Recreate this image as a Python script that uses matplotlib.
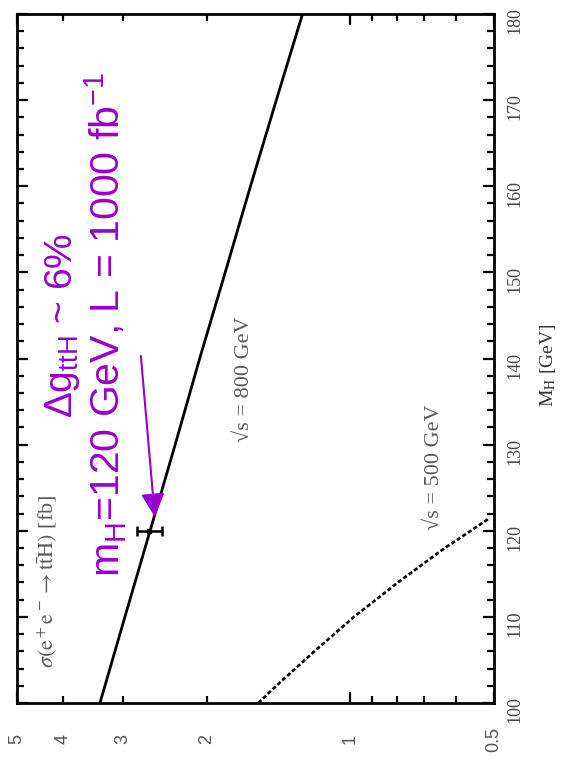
import numpy as np
import matplotlib
matplotlib.use('Agg')
import matplotlib.pyplot as plt
from matplotlib.ticker import FixedLocator, FixedFormatter, MultipleLocator

plt.rcParams['mathtext.fontset'] = 'custom'
plt.rcParams['mathtext.rm'] = 'Liberation Sans'
plt.rcParams['mathtext.it'] = 'Liberation Sans:italic'
plt.rcParams['mathtext.bf'] = 'Liberation Sans:bold'

mh_800 = [100, 110, 120, 130, 140, 150, 160, 170, 180]
sigma_800 = [3.35, 2.97, 2.63, 2.33, 2.07, 1.83, 1.62, 1.43, 1.26]

mh_500 = [100, 102, 106, 110, 114, 118, 120, 121.5]
sigma_500 = [1.56, 1.43, 1.19, 0.983, 0.795, 0.634, 0.559, 0.510]

mh_meas = 120
sigma_meas = 2.64
sigma_err = 0.155

arrow_start = (2.75, 140.3)
arrow_tip = (2.57, 121.6)

purple = '#9900cc'
gray = '#5a5a5a'

fig = plt.figure(figsize=(5.64, 7.77), dpi=100)
ax = fig.add_axes([17/564, (777-703)/777, 477/564, 689/777])

# rotated frame: sigma runs right->left along x, M_H runs up along y
ax.plot(sigma_800, mh_800, color='k', lw=2)
ax.plot(sigma_500, mh_500, color='k', lw=1.9, linestyle=(0, (1.6, 0.9)))
ax.errorbar(sigma_meas, mh_meas, xerr=sigma_err, fmt='s', ms=3.5, color='k',
            lw=1.8, capsize=3.8, capthick=1.8, zorder=5)

ax.annotate('', xy=arrow_tip, xytext=arrow_start,
            arrowprops=dict(arrowstyle='-|>', color=purple, lw=1.5,
                            mutation_scale=36, shrinkA=0, shrinkB=0))

ax.set_xscale('log')
ax.set_xlim(5, 0.5)
ax.set_ylim(100, 180)

ax.xaxis.set_major_locator(FixedLocator([0.5, 1, 5]))
ax.xaxis.set_major_formatter(FixedFormatter(['0.5', '1', '5']))
ax.xaxis.set_minor_locator(FixedLocator([0.6, 0.7, 0.8, 0.9, 2, 3, 4]))
ax.xaxis.set_minor_formatter(FixedFormatter(['', '', '', '', '2', '3', '4']))

ax.yaxis.set_major_locator(MultipleLocator(10))
ax.yaxis.set_minor_locator(MultipleLocator(2))
ax.yaxis.tick_right()

ax.tick_params(axis='both', which='major', direction='in', length=8, width=1.6)
ax.tick_params(axis='both', which='minor', direction='in', length=5, width=1.6)
ax.tick_params(axis='x', which='both', top=True, bottom=True, pad=26,
               labelrotation=90, labelsize=13, labelcolor='#555555')
ax.tick_params(axis='y', which='both', left=True, right=True, pad=9,
               labelrotation=90, labelsize=13, labelcolor='#444444')
for lbl in ax.get_xticklabels(which='both'):
    lbl.set_va('center')
    lbl.set_family('Liberation Sans')
for lbl in ax.get_yticklabels(which='both'):
    lbl.set_family('Liberation Serif')

for s in ax.spines.values():
    s.set_linewidth(2)

ax.text(1.113, 0.4906, r'M$_\mathrm{H}$ [GeV]', transform=ax.transAxes,
        rotation=90, ha='center', va='center', fontsize=14,
        family='Liberation Serif', math_fontfamily='stix', color='#333333')

ax.text(0.065, 0.176, r'$\sigma(\mathrm{e^+e^-}\rightarrow \mathrm{t\bar{t}H})$ [fb]',
        transform=ax.transAxes, rotation=90, ha='center', va='center',
        fontsize=16, family='Liberation Serif', math_fontfamily='stix', color=gray)
ax.text(0.476, 0.470, '√s = 800 GeV', transform=ax.transAxes, rotation=90,
        ha='center', va='center', fontsize=16,
        family=['Liberation Serif', 'DejaVu Serif'], color=gray)
ax.text(0.876, 0.3425, '√s = 500 GeV', transform=ax.transAxes, rotation=90,
        ha='center', va='center', fontsize=16,
        family=['Liberation Serif', 'DejaVu Serif'], color=gray)

ax.text(0.1153, 0.4136, r'Δg$_\mathrm{ttH}$ ~ 6%', transform=ax.transAxes,
        rotation=90, rotation_mode='anchor', ha='left', va='baseline',
        fontsize=28, family='Liberation Sans', color=purple)
ax.text(0.2159, 0.1829, r'm$_\mathrm{H}$=120 GeV, L = 1000 fb$^\mathrm{-1}$',
        transform=ax.transAxes, rotation=90, rotation_mode='anchor',
        ha='left', va='baseline', fontsize=29.5, family='Liberation Sans',
        color=purple)

fig.savefig('out.png', dpi=100)
